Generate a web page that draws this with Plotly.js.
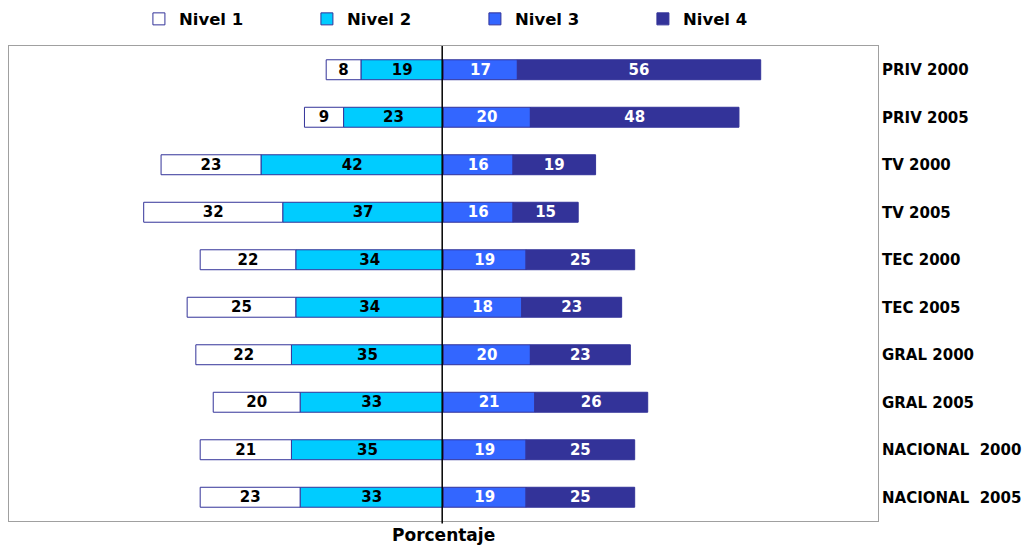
<!DOCTYPE html>
<html>
<head>
<meta charset="utf-8">
<script src="https://cdn.plot.ly/plotly-3.0.1.min.js"></script>
<style>html,body{margin:0;padding:0;background:#fff;}#chart{width:1029px;height:545px;}</style>
</head>
<body>
<div id="chart"></div>
<script>
const categories = ["PRIV 2000", "PRIV 2005", "TV 2000", "TV 2005", "TEC 2000", "TEC 2005", "GRAL 2000", "GRAL 2005", "NACIONAL\u00a0 2000", "NACIONAL\u00a0 2005"];
const nivel1 = [8, 9, 23, 32, 22, 25, 22, 20, 21, 23];
const nivel2 = [19, 23, 42, 37, 34, 34, 35, 33, 35, 33];
const nivel3 = [17, 20, 16, 16, 19, 18, 20, 21, 19, 19];
const nivel4 = [56, 48, 19, 15, 25, 23, 23, 26, 25, 25];

const FONT = "'DejaVu Sans', Arial, sans-serif";
const border = {color: "#333399", width: 1};

function mk(name, vals, neg, color, textColor, rank) {
  return {
    type: "bar", orientation: "h", name: name,
    y: categories, x: vals.map(v => neg ? -v : v),
    text: vals.map(v => String(v)), textposition: "inside", insidetextanchor: "middle",
    textangle: 0,
    textfont: {family: FONT, size: 15, color: textColor, weight: 700},
    constraintext: "none",
    marker: {color: color, line: border},
    legendrank: rank, hoverinfo: "skip"
  };
}

const data = [
  mk("Nivel 2", nivel2, true, "#00ccff", "#000000", 2),
  mk("Nivel 1", nivel1, true, "#ffffff", "#000000", 1),
  mk("Nivel 3", nivel3, false, "#3366ff", "#ffffff", 3),
  mk("Nivel 4", nivel4, false, "#333399", "#ffffff", 4)
];

const layout = {
  width: 1029, height: 545,
  margin: {l: 9, r: 151, t: 46, b: 24},
  paper_bgcolor: "#fff", plot_bgcolor: "#fff",
  barmode: "relative", bargap: 0.58,
  showlegend: true,
  legend: {orientation: "h", xref: "container", yref: "container", x: 0.135, y: 0.997, xanchor: "left", yanchor: "top",
    entrywidth: 123, entrywidthmode: "pixels", traceorder: "normal",
    font: {family: FONT, size: 16.5, color: "#000", weight: 700}},
  xaxis: {range: [-100, 100], showticklabels: false, ticks: "", showgrid: false, zeroline: false,
    showline: true, mirror: true, linecolor: "#a0a0a0", linewidth: 1, fixedrange: true},
  yaxis: {side: "right", autorange: "reversed", showgrid: false, zeroline: false, ticks: "",
    showline: true, mirror: true, linecolor: "#a0a0a0", linewidth: 1,
    tickfont: {family: FONT, size: 15, color: "#000", weight: 700}},
  shapes: [{type: "line", xref: "x", yref: "paper", x0: -0.3, x1: -0.3, y0: -0.005, y1: 1, line: {color: "#000", width: 1.5}}],
  annotations: [{text: "Porcentaje", xref: "x", yref: "paper", x: 0, y: 0, yshift: -14, yanchor: "middle", showarrow: false,
    font: {family: FONT, size: 17, color: "#000", weight: 700}}]
};

Plotly.newPlot("chart", data, layout, {displayModeBar: false, staticPlot: true});
</script>
</body>
</html>
